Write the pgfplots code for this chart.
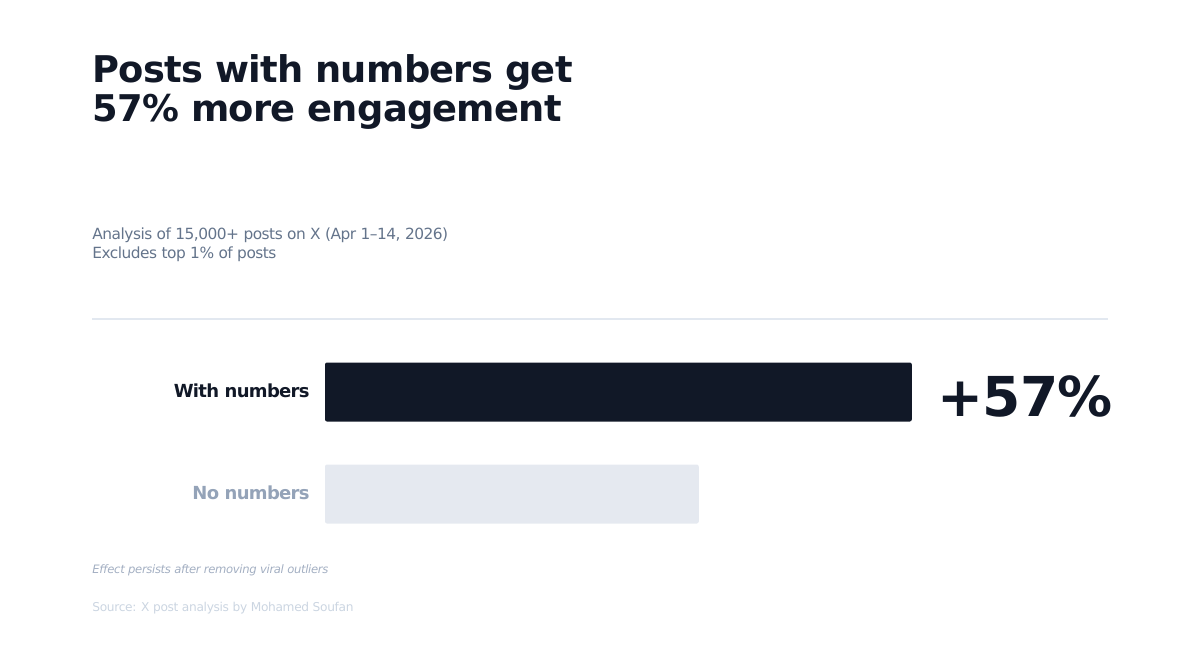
\documentclass[border=0pt]{standalone}
\usepackage{pgfplots}
\pgfplotsset{compat=1.18}
\usepackage{fontspec}
\setmainfont{DejaVu Sans}
\definecolor{navy}{HTML}{111827}
\definecolor{slate}{HTML}{64748B}
\definecolor{lightlab}{HTML}{94A3B8}
\definecolor{lightbar}{HTML}{E5E9F0}
\definecolor{divider}{HTML}{E2E8F0}
\definecolor{foot}{HTML}{A3AFC2}
\definecolor{src}{HTML}{CBD5E1}
\begin{document}
\begin{tikzpicture}
\useasboundingbox (0,0) rectangle (600pt,-329pt);
% title
\node[anchor=base west, inner sep=0pt, text=navy, font=\fontsize{18.4}{23}\selectfont\bfseries\addfontfeature{LetterSpace=-2.0}] at (46pt,-41.5pt) {Posts with numbers get};
\node[anchor=base west, inner sep=0pt, text=navy, font=\fontsize{18.4}{23}\selectfont\bfseries\addfontfeature{LetterSpace=-2.0}] at (46pt,-60.7pt) {57\% more engagement};
% subtitle
\node[anchor=base west, inner sep=0pt, text=slate, font=\fontsize{7.7}{10}\selectfont\addfontfeature{LetterSpace=-3.3}] at (46pt,-119.5pt) {Analysis of 15,000+ posts on X (Apr 1–14, 2026)};
\node[anchor=base west, inner sep=0pt, text=slate, font=\fontsize{7.7}{10}\selectfont\addfontfeature{LetterSpace=-3.3}] at (46pt,-129pt) {Excludes top 1\% of posts};
% divider
\draw[divider, line width=0.7pt] (46pt,-159.5pt) -- (554pt,-159.5pt);
\begin{axis}[
  at={(162.5pt,-272.5pt)}, anchor=south west,
  scale only axis, width=391.5pt, height=102pt,
  xmin=0, xmax=209.5, ymin=-0.5, ymax=1.5,
  axis lines=none,
  xbar, bar width=29.5pt, bar shift=0pt,
  clip=false,
]
\addplot[draw=none, fill=lightbar, rounded corners=1pt] coordinates {(100,0)};
\addplot[draw=none, fill=navy, rounded corners=1pt] coordinates {(157,1)};
\node[anchor=base east, inner sep=0pt, text=navy, font=\fontsize{9.0}{11}\selectfont\bfseries\addfontfeature{LetterSpace=-3.9}] at (axis cs:0,1) [xshift=-7.5pt, yshift=-2.9pt] {With numbers};
\node[anchor=base east, inner sep=0pt, text=lightlab, font=\fontsize{9.0}{11}\selectfont\bfseries\addfontfeature{LetterSpace=-3.9}] at (axis cs:0,0) [xshift=-7.5pt, yshift=-2.9pt] {No numbers};
\node[anchor=base west, inner sep=0pt, text=navy, font=\fontsize{27.5}{32}\selectfont\bfseries\addfontfeature{LetterSpace=-1.4}] at (axis cs:157,1) [xshift=12.5pt, yshift=-12pt] {+57\%};
\end{axis}
% footnotes
\node[anchor=base west, inner sep=0pt, text=foot, font=\fontsize{5.8}{8}\selectfont\itshape\addfontfeature{LetterSpace=-2.9}] at (46pt,-286.7pt) {Effect persists after removing viral outliers};
\node[anchor=base west, inner sep=0pt, text=src, font=\fontsize{6.1}{8}\selectfont\addfontfeature{LetterSpace=-2.7}] at (46pt,-305.5pt) {Source: X post analysis by Mohamed Soufan};
\end{tikzpicture}
\end{document}
